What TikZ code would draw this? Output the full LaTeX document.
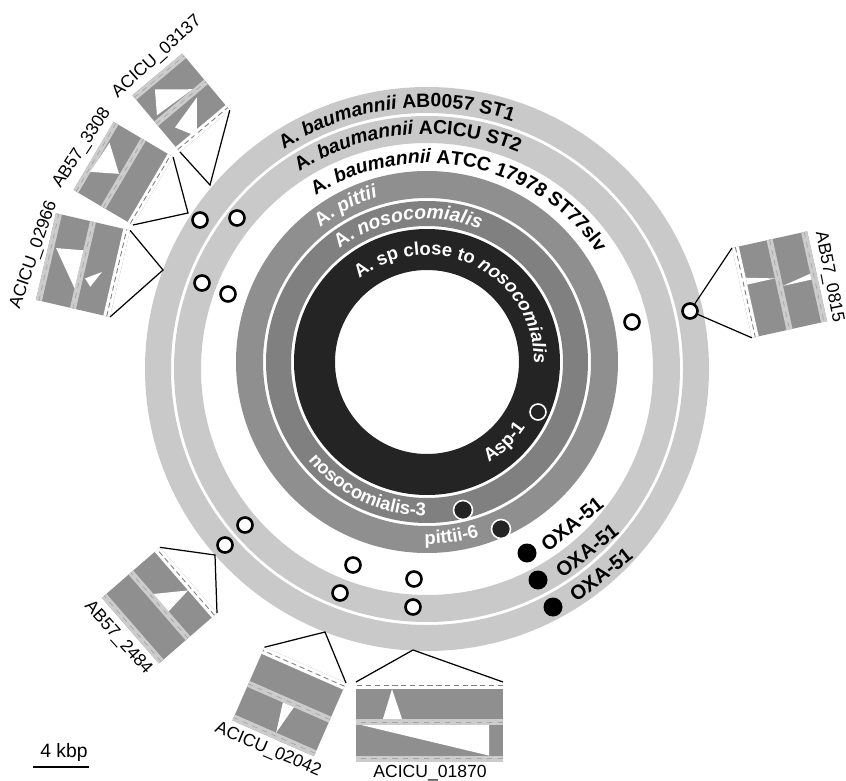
\documentclass[tikz,border=0pt]{standalone}
\usepackage{fontspec}
\setmainfont{Liberation Sans}
\usetikzlibrary{calc,decorations.text}
\definecolor{ringlight}{gray}{0.79}
\definecolor{ringpit}{gray}{0.56}
\definecolor{ringnos}{gray}{0.50}
\definecolor{ringsp}{gray}{0.14}
\definecolor{boxgray}{gray}{0.56}
\definecolor{boxstripe}{gray}{0.80}
% fonts of the ring labels
\newcommand{\rbf}{\fontsize{11}{13}\selectfont\bfseries\upshape}
\newcommand{\rit}{\fontsize{11}{13}\selectfont\bfseries\itshape}
\newcommand{\sbf}{\fontsize{10.5}{12}\selectfont\bfseries\upshape}
\newcommand{\sit}{\fontsize{10.5}{12}\selectfont\bfseries\itshape}
% alignment box, local frame: #1 along the track, #2 away from the ring
\newcommand{\alnbox}[2]{%
  \fill[boxgray] (0,0) rectangle (#1,#2);
  \fill[white] (0,0) rectangle (#1,{0.09*#2});
  \fill[boxstripe] (0,{0.46*#2}) rectangle (#1,{0.54*#2});
  \fill[boxstripe] (0,{0.92*#2}) rectangle (#1,#2);
  \draw[gray, densely dashed, line width=0.5pt] (0,{0.045*#2}) -- (#1,{0.045*#2});
  \draw[gray!70, dashed, line width=0.4pt] (0,{0.5*#2}) -- (#1,{0.5*#2});
  \draw[gray!70, dashed, line width=0.4pt] (0,{0.96*#2}) -- (#1,{0.96*#2});
}
\begin{document}
\begin{tikzpicture}[x=0.02cm,y=0.02cm,
    openmark/.style={circle,draw,fill=white,line width=1.5pt,minimum size=0.3cm,inner sep=0pt},
    oxamark/.style={circle,fill=black,minimum size=0.38cm,inner sep=0pt},
    innermark/.style={circle,draw=white,fill=ringsp,line width=0.9pt,minimum size=0.38cm,inner sep=0pt},
    link/.style={line width=0.7pt},
    genelabel/.style={font=\fontsize{10}{12}\selectfont,inner sep=1pt},
    oxalabel/.style={font=\fontsize{11.5}{13}\selectfont\bfseries,inner sep=1pt},
    ringlabel/.style={decorate,decoration={text along path,text align=center,#1}}]
\useasboundingbox (0,0) rectangle (846,-781);
\coordinate (C) at (427,-362);
\coordinate (D) at (427,-369);
% Rings
\fill[ringlight,even odd rule] (D) circle[radius=282] circle[radius=256];
\fill[ringlight,even odd rule] (D) circle[radius=253] circle[radius=226];
\fill[ringpit,even odd rule] (C) circle[radius=191] circle[radius=164];
\fill[ringnos,even odd rule] (C) circle[radius=161] circle[radius=136];
\fill[ringsp,even odd rule] (C) circle[radius=133] circle[radius=92];
% Ring labels
\path[ringlabel={text={|\rbf|A. |\rit|baumannii|\rbf| AB0057 ST1}}]
  (D) ++(152:262) arc[start angle=152,end angle=42,radius=262];
\path[ringlabel={text={|\rbf|A. |\rit|baumannii|\rbf| ACICU ST2}}]
  (D) ++(150:235) arc[start angle=150,end angle=40,radius=235];
\path[ringlabel={text={|\rbf|A. |\rit|baumannii|\rbf| ATCC 17978 ST77slv}}]
  (D) ++(150:206) arc[start angle=150,end angle=7,radius=206];
\path[ringlabel={text color=white,text={|\rbf|A. |\rit|pittii}}]
  (C) ++(160:172) arc[start angle=160,end angle=75,radius=172];
\path[ringlabel={text color=white,text={|\rbf|A. |\rit|nosocomialis}}]
  (C) ++(150:143) arc[start angle=150,end angle=46,radius=143];
\path[ringlabel={text color=white,text={|\sbf|A. sp close to |\sit|nosocomialis}}]
  (C) ++(184:107) arc[start angle=184,end angle=-56,radius=107];
\path[ringlabel={text color=white,text={|\sbf|Asp-1}}]
  (C) ++(-80:118) arc[start angle=-80,end angle=-12,radius=118];
\path[ringlabel={text color=white,text={|\sbf|nosocomialis-3}}]
  (C) ++(-170:154) arc[start angle=-170,end angle=-61,radius=154];
\path[ringlabel={text color=white,text={|\sbf|pittii-6}}]
  (C) ++(-112:182) arc[start angle=-112,end angle=-52,radius=182];
% Markers
\node[openmark] (m0815) at (690,-311) {};
\node[openmark] (r1a) at (200,-220) {};
\node[openmark] (r1b) at (225,-545) {};
\node[openmark] (r2a) at (237,-218) {};
\node[openmark] (r2b) at (202,-283) {};
\node[openmark] (r2c) at (245,-525) {};
\node[openmark] (r2d) at (340,-593) {};
\node[openmark] (r2e) at (413,-607) {};
\node[openmark] (r3a) at (228,-294) {};
\node[openmark] (r3b) at (632,-322) {};
\node[openmark] (r3c) at (353,-565) {};
\node[openmark] (r3d) at (414,-579) {};
\node[oxamark] (x3) at (527,-553) {};
\node[oxamark] (x2) at (538,-580) {};
\node[oxamark] (x1) at (553,-607) {};
\node[innermark] (nos3) at (463,-510) {};
\node[innermark] (pit6) at (501,-529) {};
\node[circle,draw=white,line width=0.9pt,minimum size=0.32cm,inner sep=0pt] (asp1) at (538,-412) {};
\node[oxalabel,rotate=39] (t3) at (572,-524) {OXA-51};
\node[oxalabel,rotate=38] (t2) at (587,-551) {OXA-51};
\node[oxalabel,rotate=38] (t1) at (601,-575) {OXA-51};
% Alignment boxes
\begin{scope}[shift={(180,-152)},rotate=40]
  \alnbox{65}{74}
  \fill[white] (21,64) -- (50,40) -- (6,43) -- cycle;
  \fill[white] (12,22) -- (48,31) -- (23,1) -- cycle;
  \coordinate (k1a) at (0,0); \coordinate (k1b) at (65,0);
\end{scope}
\begin{scope}[shift={(133,-225)},rotate=59.5]
  \alnbox{79}{69}
  \fill[white] (24,64) -- (59,62) -- (37,38) -- cycle;
  \coordinate (k2a) at (0,0); \coordinate (k2b) at (79,0);
\end{scope}
\begin{scope}[shift={(110,-317)},rotate=77]
  \alnbox{89}{76}
  \fill[white] (20,41) -- (59,41) -- (55,68) -- cycle;
  \fill[white] (32,33) -- (42,18) -- (25,26) -- cycle;
  \coordinate (k3a) at (0,0); \coordinate (k3b) at (89,0);
\end{scope}
\begin{scope}[shift={(732,-248)},rotate=-77.5]
  \alnbox{92}{77}
  \fill[white] (32,7) -- (39,7) -- (39,35.4) -- cycle;
  \fill[white] (42,70.8) -- (48,70.8) -- (48,41.6) -- cycle;
  \coordinate (k4a) at (0,0); \coordinate (k4b) at (92,0);
\end{scope}
\begin{scope}[shift={(217,-613)},rotate=131]
  \alnbox{87}{77}
  \fill[white] (33,35.4) -- (56,35.4) -- (36,7) -- cycle;
  \coordinate (k5a) at (0,0); \coordinate (k5b) at (87,0);
\end{scope}
\begin{scope}[shift={(346,-683)},rotate=156.3]
  \alnbox{89}{80}
  \fill[white] (38,43.2) -- (50,43.2) -- (44,73.6) -- cycle;
  \coordinate (k6a) at (0,0); \coordinate (k6b) at (89,0);
\end{scope}
\begin{scope}[shift={(503,-682)},rotate=180]
  \alnbox{147}{80}
  \fill[white] (101,36.8) -- (120,36.8) -- (111,7.2) -- cycle;
  \fill[white] (141,43.2) -- (14,43.2) -- (14,73.6) -- cycle;
  \coordinate (k7a) at (0,0); \coordinate (k7b) at (147,0);
\end{scope}
% Links to the ring
\coordinate (p1) at (210,-185);
\coordinate (p2) at (188,-213);
\coordinate (p3) at (163,-270);
\coordinate (p5) at (215,-555);
\coordinate (p6) at (325,-632);
\coordinate (p7) at (413,-650);
\draw[link] (k1a) -- (p1) -- (k1b);
\draw[link] (k2a) -- (p2) -- (k2b);
\draw[link] (k3a) -- (p3) -- (k3b);
\draw[link] (k4a) -- (m0815) -- (k4b);
\draw[link] (k5a) -- (p5) -- (k5b);
\draw[link] (k6a) -- (p6) -- (k6b);
\draw[link] (k7a) -- (p7) -- (k7b);
% Gene labels
\node[genelabel,rotate=42] (g1) at (157,-57) {ACICU\_03137};
\node[genelabel,rotate=57] (g2) at (82,-148) {AB57\_3308};
\node[genelabel,rotate=71] (g3) at (34,-255) {ACICU\_02966};
\node[genelabel,rotate=-79] (g4) at (829,-277) {AB57\_0815};
\node[genelabel,rotate=-48] (g5) at (118,-638) {AB57\_2484};
\node[genelabel,rotate=-23] (g6) at (268,-750) {ACICU\_02042};
\node[genelabel] (g7) at (430,-773) {ACICU\_01870};
% Scale bar
\node[genelabel,font=\fontsize{11}{13}\selectfont] (kbp) at (64,-752) {4 kbp};
\draw[line width=1.7pt] (33,-767) -- (89,-767);
\end{tikzpicture}
\end{document}
